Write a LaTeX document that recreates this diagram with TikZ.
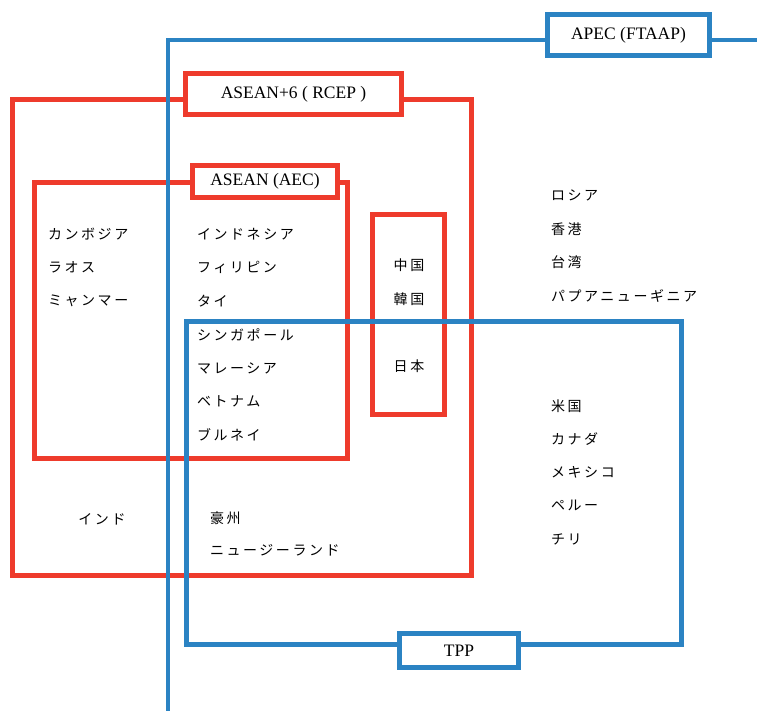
\documentclass[tikz,border=0pt]{standalone}
\usepackage{fontspec}
\setmainfont{Liberation Serif}
\newfontfamily\jp[LetterSpace=18]{Noto Sans CJK JP}
\usetikzlibrary{positioning}

\definecolor{rcepred}{RGB}{238,59,44}
\definecolor{apecblue}{RGB}{43,131,195}

\tikzset{
  redline/.style={draw=rcepred, line width=4.5pt},
  blueline/.style={draw=apecblue, line width=4.5pt},
  tag/.style={fill=white, inner sep=0pt, font=\fontsize{17.5}{20}\selectfont},
  jpname/.style={inner sep=0pt, anchor=west, font=\jp\fontsize{14}{16}\selectfont},
}

\begin{document}
\begin{tikzpicture}[x=1pt,y=-1pt]

% Page size
\useasboundingbox (0,0) rectangle (757,711);

% Group corners
\coordinate (R1) at (12.5,99.5);   % ASEAN+6
\coordinate (R2) at (471.5,575.5);
\coordinate (A1) at (34.5,182.5);  % ASEAN
\coordinate (A2) at (347.5,458.5);
\coordinate (J1) at (372.5,214.5); % China, Korea, Japan
\coordinate (J2) at (444.5,414.5);
\coordinate (T1) at (186.5,321.5); % TPP
\coordinate (T2) at (681.5,644.5);

% APEC line
\coordinate (apecfoot) at (168,711);
\coordinate (apecbend) at (168,40);
\coordinate (apecend) at (757,40);

% Draw red groups
\draw[redline] (R1) rectangle (R2);
\draw[redline] (A1) rectangle (A2);
\draw[redline] (J1) rectangle (J2);

% Red labels
\node[tag, redline, minimum width=216pt, minimum height=41pt] (rcep) at (293.5,94) {ASEAN+6 ( RCEP )};
\node[tag, redline, minimum width=145pt, minimum height=32pt] (aec) at (265,181.5) {ASEAN (AEC)};

% Draw blue groups
\draw[blueline] (apecfoot) -- (apecbend) -- (apecend);
\draw[blueline] (T1) rectangle (T2);

% Blue labels
\node[tag, blueline, minimum width=162pt, minimum height=41pt] (apec) at (628.5,35) {APEC (FTAAP)};
\node[tag, blueline, minimum width=119pt, minimum height=34pt] (tpp) at (459,650.5) {TPP};

% Countries
\foreach \c [count=\i] in {カンボジア,ラオス,ミャンマー}
  \node[jpname] (west\i) at (48,{234+33.5*(\i-1)}) {\c};
\foreach \c [count=\i] in {インドネシア,フィリピン,タイ,シンガポール,マレーシア,ベトナム,ブルネイ}
  \node[jpname] (mid\i) at (197,{234+33.5*(\i-1)}) {\c};
\node[jpname, anchor=center] (china) at (409,265) {中国};
\node[jpname, anchor=center] (korea) at (409,299) {韓国};
\node[jpname, anchor=center] (japan) at (409,366) {日本};
\foreach \c [count=\i] in {ロシア,香港,台湾,パプアニューギニア}
  \node[jpname] (east\i) at (551,{195+33.7*(\i-1)}) {\c};
\foreach \c [count=\i] in {米国,カナダ,メキシコ,ペルー,チリ}
  \node[jpname] (tppc\i) at (551,{406+33.25*(\i-1)}) {\c};
\node[jpname, anchor=center] (india) at (102,519) {インド};
\node[jpname] (aus) at (210,518) {豪州};
\node[jpname] (nz) at (210,550) {ニュージーランド};

\end{tikzpicture}
\end{document}
